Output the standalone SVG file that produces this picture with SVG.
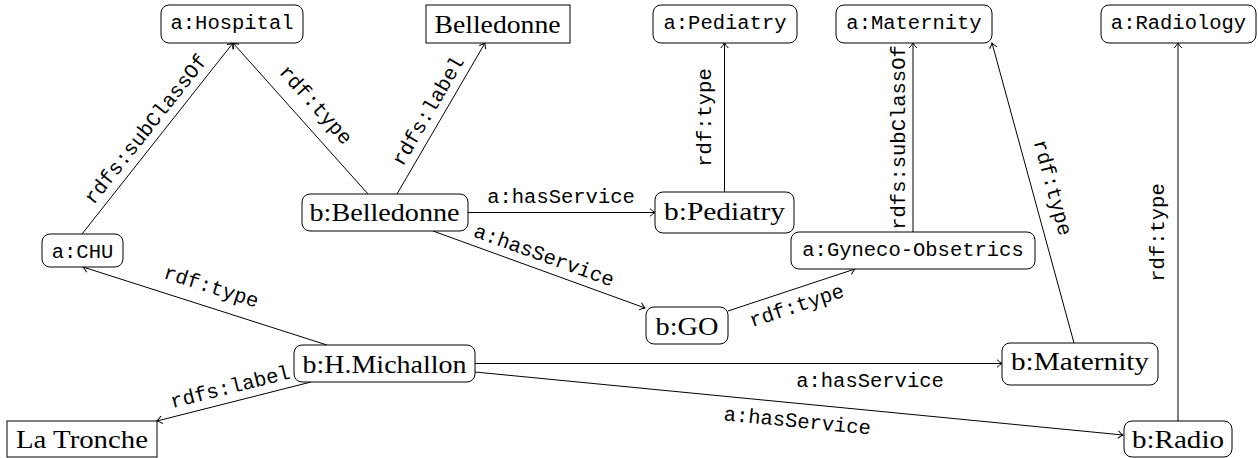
<svg xmlns="http://www.w3.org/2000/svg" width="1258" height="458" viewBox="0 0 1258 458">
<style>
.n{fill:#fff;stroke:#000;stroke-width:1}
.tt{font-family:"Liberation Mono","DejaVu Sans Mono",monospace;font-size:20.5px;fill:#000;text-anchor:middle}
.rm{font-family:"Liberation Serif","DejaVu Serif",serif;font-size:26px;fill:#000;text-anchor:middle}
.e{fill:none;stroke:#000;stroke-width:1;marker-end:url(#arr)}
</style>
<defs>
<marker id="arr" markerUnits="userSpaceOnUse" markerWidth="12" markerHeight="12" viewBox="-6 -6 12 12" refX="0" refY="0" orient="auto" overflow="visible">
<path d="M-5,-3.8 Q-2,-1 0,0 Q-2,1 -5,3.8" fill="none" stroke="#000" stroke-width="1"/>
</marker>
</defs>
<g id="connectors">
<path class="e" d="M82,234 L233,43"/>
<path class="e" d="M368,194 L233,43"/>
<path class="e" d="M397,194 L485,43"/>
<path class="e" d="M468,212.5 L655,212.5"/>
<path class="e" d="M433,231 L645,308"/>
<path class="e" d="M728,311 L855,269"/>
<path class="e" d="M913,232 L913,43"/>
<path class="e" d="M724.5,192 L724.5,43"/>
<path class="e" d="M327,345 L83,267"/>
<path class="e" d="M311,382 L157,421"/>
<path class="e" d="M475,363.5 L1002,363.5"/>
<path class="e" d="M475,372 L1123,435"/>
<path class="e" d="M1074,343 L992,43"/>
<path class="e" d="M1178,422 L1178,43"/>
<g class="labels">
<text class="tt" transform="translate(157.5,138.5) rotate(-51.67)" y="-8.5">rdfs:subClassOf</text>
<text class="tt" transform="translate(300.5,118.5) rotate(48.2)" y="-14">rdf:type</text>
<text class="tt" transform="translate(441,118.5) rotate(-59.77)" y="-8.5">rdfs:label</text>
<text class="tt" x="561" y="203">a:hasService</text>
<text class="tt" transform="translate(539,269.5) rotate(19.96)" y="-8.5">a:hasService</text>
<text class="tt" transform="translate(791.5,290) rotate(-18.3)" y="23">rdf:type</text>
<text class="tt" transform="translate(913,137.5) rotate(-90)" y="-8.5">rdfs:subClassOf</text>
<text class="tt" transform="translate(724.5,117.5) rotate(-90)" y="-14">rdf:type</text>
<text class="tt" transform="translate(205,306) rotate(17.73)" y="-14">rdf:type</text>
<text class="tt" transform="translate(234,401.5) rotate(-14.2)" y="-8.5">rdfs:label</text>
<text class="tt" x="870" y="387">a:hasService</text>
<text class="tt" transform="translate(799,403.5) rotate(5.55)" y="24">a:hasService</text>
<text class="tt" transform="translate(1033,193) rotate(74.71)" y="-14">rdf:type</text>
<text class="tt" transform="translate(1178,232.5) rotate(-90)" y="-14">rdf:type</text>
</g>
</g>
<g id="a-hospital"><rect class="n" x="161" y="5" width="142" height="38" rx="8"/><text class="tt" x="232" y="28.5">a:Hospital</text></g>
<g id="belledonne-lit"><rect class="n" x="426" y="5" width="144" height="38"/><text class="rm" x="497.5" y="32.5" textLength="126" lengthAdjust="spacingAndGlyphs">Belledonne</text></g>
<g id="a-pediatry"><rect class="n" x="653" y="5" width="144" height="38" rx="8"/><text class="tt" x="725" y="28.5">a:Pediatry</text></g>
<g id="a-maternity"><rect class="n" x="836" y="5" width="156" height="38" rx="8"/><text class="tt" x="914" y="28.5">a:Maternity</text></g>
<g id="a-radiology"><rect class="n" x="1101" y="5" width="155" height="38" rx="8"/><text class="tt" x="1178.5" y="28.5">a:Radiology</text></g>
<g id="a-chu"><rect class="n" x="42" y="234" width="81" height="33" rx="8"/><text class="tt" x="82.5" y="257.5">a:CHU</text></g>
<g id="b-belledonne"><rect class="n" x="302" y="194" width="166" height="37" rx="8"/><text class="rm" x="384.5" y="221" textLength="150" lengthAdjust="spacingAndGlyphs">b:Belledonne</text></g>
<g id="b-pediatry"><rect class="n" x="655" y="192" width="139" height="41" rx="8"/><text class="rm" x="724.5" y="220" textLength="121" lengthAdjust="spacingAndGlyphs">b:Pediatry</text></g>
<g id="a-gyneco"><rect class="n" x="791" y="232" width="244" height="37" rx="8"/><text class="tt" x="913" y="255.5">a:Gyneco-Obsetrics</text></g>
<g id="b-go"><rect class="n" x="646" y="307" width="82" height="37" rx="8"/><text class="rm" x="687" y="335" textLength="63" lengthAdjust="spacingAndGlyphs">b:GO</text></g>
<g id="b-hmichallon"><rect class="n" x="294" y="345" width="181" height="37" rx="8"/><text class="rm" x="384.5" y="373" textLength="164" lengthAdjust="spacingAndGlyphs">b:H.Michallon</text></g>
<g id="b-maternity"><rect class="n" x="1002" y="343" width="156" height="42" rx="8"/><text class="rm" x="1080" y="370" textLength="138" lengthAdjust="spacingAndGlyphs">b:Maternity</text></g>
<g id="b-radio"><rect class="n" x="1124" y="421" width="108" height="36" rx="8"/><text class="rm" x="1178" y="448" textLength="92" lengthAdjust="spacingAndGlyphs">b:Radio</text></g>
<g id="la-tronche"><rect class="n" x="7" y="421" width="150" height="36"/><text class="rm" x="82" y="448" textLength="132" lengthAdjust="spacingAndGlyphs">La Tronche</text></g>
</svg>
